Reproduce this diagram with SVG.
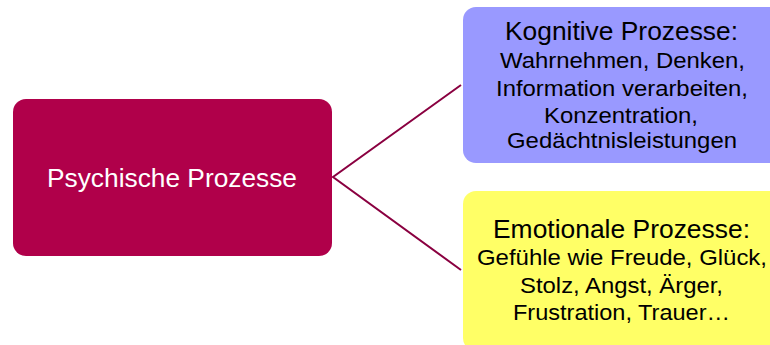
<svg xmlns="http://www.w3.org/2000/svg" width="770" height="345" viewBox="0 0 770 345">
<style>
.t{font-family:"Liberation Sans",Arial,sans-serif;text-anchor:middle;fill:#000}
.h{font-size:25px}
.b{font-size:22px}
.c{fill:none;stroke:#8a0040;stroke-width:2}
</style>
<rect width="770" height="345" fill="#fff"/>
<g id="connectors">
<polyline class="c" points="461,85 333,177 461,270"/>
</g>
<g id="psychische">
<rect x="13" y="99" width="319" height="157" rx="13" fill="#b0004a"/>
<text x="172" y="187" style="font-family:'Liberation Sans',Arial,sans-serif;font-size:26px;fill:#fff;text-anchor:middle" textLength="250" lengthAdjust="spacingAndGlyphs">Psychische Prozesse</text>
</g>
<g id="kognitive">
<rect x="463" y="7" width="320" height="156" rx="13" fill="#9999ff"/>
<text class="t h" x="621.5" y="40" textLength="233" lengthAdjust="spacingAndGlyphs">Kognitive Prozesse:</text>
<text class="t b" x="622.5" y="68" textLength="245" lengthAdjust="spacingAndGlyphs">Wahrnehmen, Denken,</text>
<text class="t b" x="622" y="96" textLength="252" lengthAdjust="spacingAndGlyphs">Information verarbeiten,</text>
<text class="t b" x="621" y="123" textLength="154" lengthAdjust="spacingAndGlyphs">Konzentration,</text>
<text class="t b" x="622" y="148" textLength="230" lengthAdjust="spacingAndGlyphs">Gedächtnisleistungen</text>
</g>
<g id="emotionale">
<rect x="463" y="191" width="320" height="160" rx="13" fill="#ffff66"/>
<text class="t h" x="621.5" y="238" textLength="257" lengthAdjust="spacingAndGlyphs">Emotionale Prozesse:</text>
<text class="t b" x="622" y="265" textLength="290" lengthAdjust="spacingAndGlyphs">Gefühle wie Freude, Glück,</text>
<text class="t b" x="621.5" y="293" textLength="203" lengthAdjust="spacingAndGlyphs">Stolz, Angst, Ärger,</text>
<text class="t b" x="621.5" y="320" textLength="217" lengthAdjust="spacingAndGlyphs">Frustration, Trauer…</text>
</g>
</svg>
